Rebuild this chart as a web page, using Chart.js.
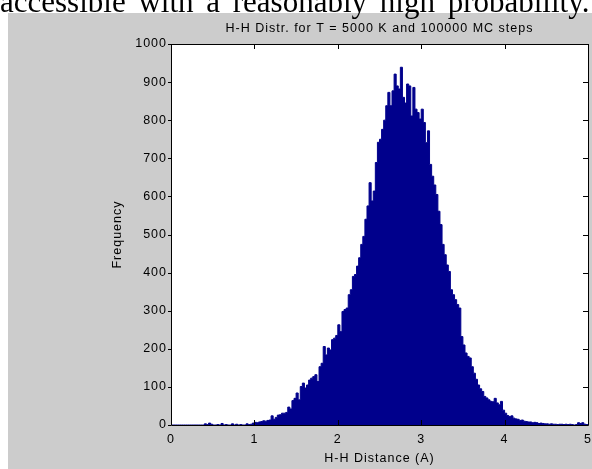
<!DOCTYPE html>
<html>
<head>
<meta charset="utf-8">
<script src="https://cdn.jsdelivr.net/npm/chart.js@4.4.0/dist/chart.umd.min.js"></script>
<style>
  body { margin: 0; width: 592px; height: 469px; overflow: hidden; background: #fff; position: relative; }
  #caption { position: absolute; left: 0; top: -14px; font-family: "Liberation Serif", "Times New Roman", serif; font-size: 31px; line-height: 31px; word-spacing: 5px; white-space: nowrap; z-index: 2; color: #000; }
  #fig { position: absolute; left: 8px; top: 13px; width: 584px; height: 456px; background: #cccccc; }
  #wrap { position: absolute; left: 0; top: 0; width: 592px; height: 469px; z-index: 1; }
</style>
</head>
<body>
<div id="caption">accessible with a reasonably high probability.</div>
<div id="fig"></div>
<div id="wrap"><canvas id="grafico"></canvas></div>
<script>
// histogram of H-H distances, bins of 0.025 A starting at 0
const binWidth = 0.025;
const freq = [
  0, 0, 0, 0, 0, 0, 0, 0, 0, 0, 0, 0, 0, 0, 0, 0, 3, 1, 5, 2,
  0, 0, 1, 0, 4, 0, 1, 0, 0, 3, 0, 2, 0, 1, 0, 0, 3, 1, 2, 5,
  7, 6, 8, 9, 11, 10, 12, 13, 24, 15, 20, 26, 27, 31, 31, 33, 47, 42, 64, 70,
  84, 66, 101, 110, 97, 105, 118, 123, 127, 132, 114, 153, 162, 206, 184, 202, 197, 224, 228, 235,
  263, 245, 298, 303, 307, 342, 355, 390, 395, 417, 439, 474, 495, 540, 575, 636, 588, 614, 689, 742,
  750, 776, 800, 838, 873, 838, 877, 921, 890, 882, 939, 860, 845, 895, 890, 811, 886, 829, 820, 803,
  829, 794, 741, 772, 684, 653, 630, 605, 561, 526, 474, 447, 420, 403, 355, 342, 329, 316, 307, 232,
  210, 189, 180, 176, 153, 136, 120, 105, 95, 88, 75, 71, 66, 62, 61, 70, 58, 53, 62, 39,
  31, 25, 22, 24, 18, 16, 15, 12, 13, 10, 9, 8, 8, 6, 7, 6, 4, 5, 4, 3,
  3, 2, 3, 2, 2, 1, 2, 2, 1, 2, 1, 2, 1, 0, 1, 6, 4, 6, 2, 1
];
const xTicks = [0, 1, 2, 3, 4, 5];
const yTicks = [0, 100, 200, 300, 400, 500, 600, 700, 800, 900, 1000];

const titulo = 'H-H Distr. for T = 5000 K and 100000 MC steps';
const ejeX = 'H-H Distance (A)';
const ejeY = 'Frequency';

const puntos = freq.map((v, i) => ({ x: i * binWidth, y: v }));
puntos.push({ x: freq.length * binWidth, y: 0 });

// MATLAB style axes: white plot area, box and tick marks
const cajaPlugin = {
  id: 'caja',
  beforeDraw(chart) {
    const ctx = chart.ctx;
    const { left, right, top, bottom } = chart.chartArea;
    ctx.save();
    ctx.fillStyle = '#fff';
    ctx.fillRect(left, top, right - left, bottom - top);
    ctx.restore();
    ctx.letterSpacing = '1px';
  },
  afterDatasetsDraw(chart) {
    const ctx = chart.ctx;
    const { left, right, top, bottom } = chart.chartArea;
    const xs = chart.scales.x, ys = chart.scales.y;
    ctx.save();
    ctx.strokeStyle = '#000';
    ctx.lineWidth = 1;
    ctx.beginPath();
    ctx.moveTo(left + 0.5, top + 0.5);
    ctx.lineTo(right + 0.5, top + 0.5);
    ctx.lineTo(right + 0.5, bottom + 0.5);
    ctx.lineTo(left + 0.5, bottom + 0.5);
    ctx.closePath();
    xTicks.forEach(v => {
      const px = Math.round(xs.getPixelForValue(v)) + 0.5;
      ctx.moveTo(px, top); ctx.lineTo(px, top + 5);
      ctx.moveTo(px, bottom); ctx.lineTo(px, bottom - 5);
    });
    yTicks.forEach(v => {
      const py = Math.round(ys.getPixelForValue(v)) + 0.5;
      ctx.moveTo(left - 3, py); ctx.lineTo(left, py);
      ctx.moveTo(right, py); ctx.lineTo(right - 5, py);
    });
    ctx.stroke();
    ctx.restore();
  },
  afterDraw(chart) { chart.ctx.letterSpacing = '0px'; }
};

Chart.defaults.font.family = '"Liberation Sans", Arial, sans-serif';
Chart.defaults.font.size = 12.5;
Chart.defaults.color = '#000';

const ctx = document.getElementById('grafico').getContext('2d');
window.miGrafico = new Chart(ctx, {
  type: 'line',
  data: {
    datasets: [{
      data: puntos,
      stepped: true,
      fill: 'origin',
      backgroundColor: 'rgb(0,0,140)',
      borderColor: 'rgb(0,0,140)',
      borderWidth: 1,
      pointRadius: 0,
      tension: 0
    }]
  },
  options: {
    responsive: true,
    maintainAspectRatio: false,
    animation: false,
    events: [],
    layout: { padding: { left: 0, right: 4, top: 0, bottom: 0 } },
    plugins: {
      legend: { display: false },
      tooltip: { enabled: false },
      title: {
        display: true,
        fullSize: false,
        text: titulo,
        font: { size: 12.5, weight: 'normal' },
        padding: { top: 21, bottom: 8 }
      }
    },
    scales: {
      x: {
        type: 'linear',
        min: 0, max: 5,
        grid: { display: false, drawTicks: false, tickLength: 0 },
        border: { display: false },
        afterBuildTicks: s => { s.ticks = xTicks.map(v => ({ value: v })); },
        afterFit: s => { s.height = 44; s.paddingLeft = 0; s.paddingRight = 0; },
        ticks: { padding: 7, maxRotation: 0, autoSkip: false, callback: v => String(v) },
        title: { display: true, text: ejeX, padding: { top: 0, bottom: 2.5 } }
      },
      y: {
        min: 0, max: 1000,
        grid: { display: false, drawTicks: false, tickLength: 0 },
        border: { display: false },
        afterBuildTicks: s => { s.ticks = yTicks.map(v => ({ value: v })); },
        afterFit: s => { s.width = 171; s.paddingTop = 0; s.paddingBottom = 0; },
        ticks: { padding: 4, autoSkip: false, callback: v => String(v) },
        title: { display: true, text: ejeY, padding: { top: 110.5, bottom: 0 } }
      }
    }
  },
  plugins: [cajaPlugin]
});
</script>
</body>
</html>
